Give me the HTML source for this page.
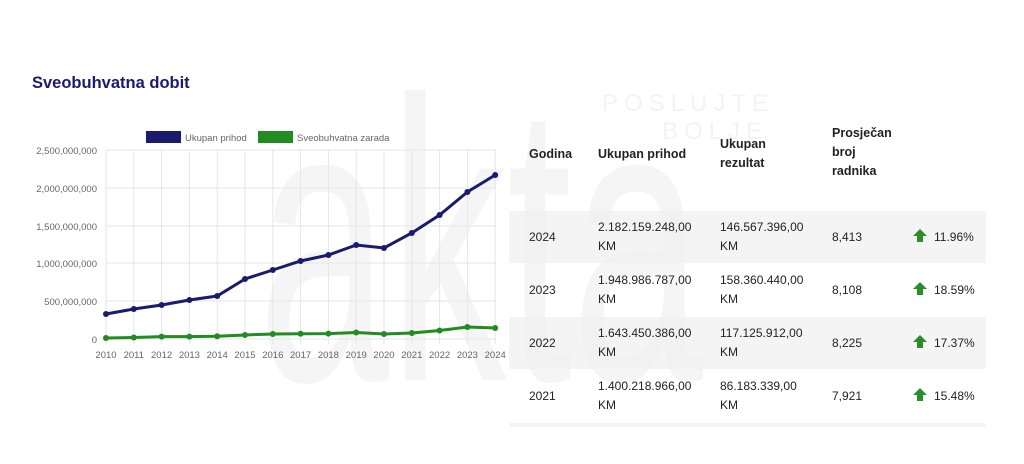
<!DOCTYPE html>
<html><head><meta charset="utf-8"><style>
body{margin:0;width:1024px;height:464px;background:#fff;overflow:hidden;position:relative;font-family:"Liberation Sans",sans-serif;}
svg{position:absolute;left:0;top:0}
.t{position:absolute;font-family:"Liberation Sans",sans-serif;font-size:12px;color:#222;line-height:19px}
.h{font-weight:bold;font-size:12.5px}
.row{position:absolute;left:509px;width:477px;height:52px;background:#f4f4f4}
</style></head><body>
<div class="row" style="top:211px"></div>
<div class="row" style="top:317px"></div>
<div class="row" style="top:423px;height:4px"></div>
<svg width="1024" height="464">
<text x="258" y="380" font-size="400" fill="#eeeef0" fill-opacity="0.6" textLength="445" lengthAdjust="spacingAndGlyphs" font-family="Liberation Sans">akta</text>
<text x="602" y="111" font-size="24" fill="#f3f3f3" letter-spacing="6">POSLUJTE</text>
<text x="662" y="139" font-size="24" fill="#f3f3f3" letter-spacing="6">BOLJE</text>
</svg>
<svg width="1024" height="464">
<text x="32" y="88" font-size="16.5" font-weight="bold" fill="#1c1a6e" font-family="Liberation Sans">Sveobuhvatna dobit</text>
<g stroke="#e6e6e6" stroke-width="1">
<line x1="106" y1="150" x2="496" y2="150"/><line x1="106" y1="188" x2="496" y2="188"/><line x1="106" y1="226" x2="496" y2="226"/><line x1="106" y1="263" x2="496" y2="263"/><line x1="106" y1="301" x2="496" y2="301"/><line x1="100" y1="339" x2="496" y2="339"/>
<line x1="106" y1="150" x2="106" y2="344"/><line x1="133.8" y1="150" x2="133.8" y2="344"/><line x1="161.6" y1="150" x2="161.6" y2="344"/><line x1="189.4" y1="150" x2="189.4" y2="344"/><line x1="217.2" y1="150" x2="217.2" y2="344"/><line x1="245" y1="150" x2="245" y2="344"/><line x1="272.8" y1="150" x2="272.8" y2="344"/><line x1="300.6" y1="150" x2="300.6" y2="344"/><line x1="328.4" y1="150" x2="328.4" y2="344"/><line x1="356.2" y1="150" x2="356.2" y2="344"/><line x1="384" y1="150" x2="384" y2="344"/><line x1="411.8" y1="150" x2="411.8" y2="344"/><line x1="439.6" y1="150" x2="439.6" y2="344"/><line x1="467.4" y1="150" x2="467.4" y2="344"/><line x1="495.2" y1="150" x2="495.2" y2="344"/>
</g>
<g font-size="9.5" fill="#666" text-anchor="end">
<text x="97" y="154">2,500,000,000</text><text x="97" y="192">2,000,000,000</text><text x="97" y="230">1,500,000,000</text><text x="97" y="267">1,000,000,000</text><text x="97" y="305">500,000,000</text><text x="97" y="343">0</text>
</g>
<g font-size="9.5" fill="#666" text-anchor="middle">
<text x="106" y="358">2010</text><text x="133.8" y="358">2011</text><text x="161.6" y="358">2012</text><text x="189.4" y="358">2013</text><text x="217.2" y="358">2014</text><text x="245" y="358">2015</text><text x="272.8" y="358">2016</text><text x="300.6" y="358">2017</text><text x="328.4" y="358">2018</text><text x="356.2" y="358">2019</text><text x="384" y="358">2020</text><text x="411.8" y="358">2021</text><text x="439.6" y="358">2022</text><text x="467.4" y="358">2023</text><text x="495.2" y="358">2024</text>
</g>
<rect x="146" y="131" width="35" height="12" fill="#1a1a6e"/>
<text x="185" y="141" font-size="9.5" fill="#666">Ukupan prihod</text>
<rect x="258" y="131" width="35" height="12" fill="#228b22"/>
<text x="297" y="141" font-size="9.5" fill="#666">Sveobuhvatna zarada</text>
<g fill="#1a1a6e"><polyline fill="none" stroke="#1a1a6e" stroke-width="3" points="106,314 133.8,309 161.6,305 189.4,300 217.2,296 245,279 272.8,270 300.6,261 328.4,255 356.2,245 384,248 411.8,233 439.6,215 467.4,192 495.2,175"/>
<circle cx="106" cy="314" r="3"/><circle cx="133.8" cy="309" r="3"/><circle cx="161.6" cy="305" r="3"/><circle cx="189.4" cy="300" r="3"/><circle cx="217.2" cy="296" r="3"/><circle cx="245" cy="279" r="3"/><circle cx="272.8" cy="270" r="3"/><circle cx="300.6" cy="261" r="3"/><circle cx="328.4" cy="255" r="3"/><circle cx="356.2" cy="245" r="3"/><circle cx="384" cy="248" r="3"/><circle cx="411.8" cy="233" r="3"/><circle cx="439.6" cy="215" r="3"/><circle cx="467.4" cy="192" r="3"/><circle cx="495.2" cy="175" r="3"/></g>
<g fill="#228b22"><polyline fill="none" stroke="#228b22" stroke-width="3" points="106,338 133.8,337.5 161.6,336.6 189.4,336.6 217.2,336.3 245,335 272.8,334 300.6,333.8 328.4,333.6 356.2,332.5 384,334 411.8,333 439.6,330.5 467.4,327 495.2,328"/>
<circle cx="106" cy="338" r="3"/><circle cx="133.8" cy="337.5" r="3"/><circle cx="161.6" cy="336.6" r="3"/><circle cx="189.4" cy="336.6" r="3"/><circle cx="217.2" cy="336.3" r="3"/><circle cx="245" cy="335" r="3"/><circle cx="272.8" cy="334" r="3"/><circle cx="300.6" cy="333.8" r="3"/><circle cx="328.4" cy="333.6" r="3"/><circle cx="356.2" cy="332.5" r="3"/><circle cx="384" cy="334" r="3"/><circle cx="411.8" cy="333" r="3"/><circle cx="439.6" cy="330.5" r="3"/><circle cx="467.4" cy="327" r="3"/><circle cx="495.2" cy="328" r="3"/></g>
<g fill="#2a8f2a">
<path d="M920,229 l-7,7 h4 v6 h6 v-6 h4 z"/><path d="M920,282 l-7,7 h4 v6 h6 v-6 h4 z"/><path d="M920,335 l-7,7 h4 v6 h6 v-6 h4 z"/><path d="M920,388 l-7,7 h4 v6 h6 v-6 h4 z"/>
</g>
</svg>
<div class="t h" style="left:529px;top:145px">Godina</div>
<div class="t h" style="left:598px;top:145px">Ukupan prihod</div>
<div class="t h" style="left:720px;top:135px">Ukupan<br>rezultat</div>
<div class="t h" style="left:832px;top:124px">Prosječan<br>broj<br>radnika</div>

<div class="t" style="left:529px;top:228px">2024</div>
<div class="t" style="left:598px;top:218px">2.182.159.248,00<br>KM</div>
<div class="t" style="left:720px;top:218px">146.567.396,00<br>KM</div>
<div class="t" style="left:832px;top:228px">8,413</div>
<div class="t" style="left:934px;top:228px">11.96%</div>

<div class="t" style="left:529px;top:281px">2023</div>
<div class="t" style="left:598px;top:271px">1.948.986.787,00<br>KM</div>
<div class="t" style="left:720px;top:271px">158.360.440,00<br>KM</div>
<div class="t" style="left:832px;top:281px">8,108</div>
<div class="t" style="left:934px;top:281px">18.59%</div>

<div class="t" style="left:529px;top:334px">2022</div>
<div class="t" style="left:598px;top:324px">1.643.450.386,00<br>KM</div>
<div class="t" style="left:720px;top:324px">117.125.912,00<br>KM</div>
<div class="t" style="left:832px;top:334px">8,225</div>
<div class="t" style="left:934px;top:334px">17.37%</div>

<div class="t" style="left:529px;top:387px">2021</div>
<div class="t" style="left:598px;top:377px">1.400.218.966,00<br>KM</div>
<div class="t" style="left:720px;top:377px">86.183.339,00<br>KM</div>
<div class="t" style="left:832px;top:387px">7,921</div>
<div class="t" style="left:934px;top:387px">15.48%</div>
</body></html>
